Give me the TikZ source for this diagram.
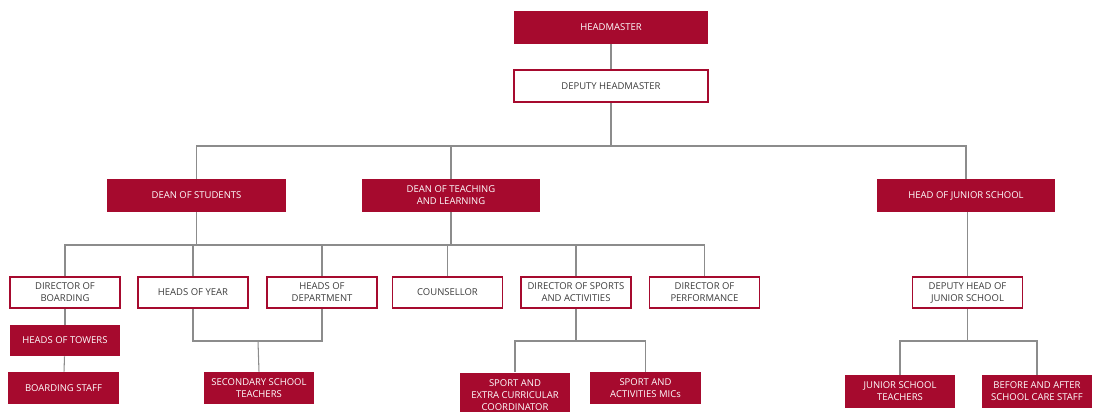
\documentclass[tikz,border=0pt]{standalone}
\usepackage{fontspec}
\setmainfont{Open Sans}
\usepackage{tikz}
\usetikzlibrary{positioning}
\usetikzlibrary{calc}

\definecolor{schoolred}{RGB}{166,10,46}
\definecolor{linegray}{RGB}{140,140,140}
\definecolor{textgray}{RGB}{60,60,60}

\begin{document}
\begin{tikzpicture}[x=0.02cm, y=-0.02cm,
    redbox/.style={fill=schoolred, text=white, inner sep=0pt, align=center,
        font=\fontsize{5.4}{6.8}\selectfont},
    whitebox/.style={draw=schoolred, line width=0.9pt, fill=white, text=textgray,
        inner sep=0pt, align=center, font=\fontsize{5.4}{6.8}\selectfont},
    link/.style={draw=linegray, line width=0.6pt}]

 \useasboundingbox (0,0) rectangle (1093,412);
 \clip (0,0) rectangle (1093,412);

 % top of the tree
 \node[redbox, minimum width=3.88cm, minimum height=0.66cm] (hm) at (611,27.5) {HEADMASTER};
 \node[whitebox, minimum width=3.88cm, minimum height=0.64cm] (dhm) at (611,86) {DEPUTY HEADMASTER};

 % deans
 \node[redbox, minimum width=3.58cm, minimum height=0.66cm] (dos) at (196.5,195.5) {DEAN OF STUDENTS};
 \node[redbox, minimum width=3.58cm, minimum height=0.66cm] (dtl) at (451,195.5) {DEAN OF TEACHING\\AND LEARNING};
 \node[redbox, minimum width=3.58cm, minimum height=0.66cm] (hjs) at (966,195.5) {HEAD OF JUNIOR SCHOOL};

 % third row
 \foreach \x/\nm/\txt in {65/dob/DIRECTOR OF\\BOARDING, 193/hoy/HEADS OF YEAR,
     322/hod/HEADS OF\\DEPARTMENT, 447.5/cou/COUNSELLOR,
     576/dsa/DIRECTOR OF SPORTS\\AND ACTIVITIES, 704.5/dop/DIRECTOR OF\\PERFORMANCE,
     967.5/dhj/DEPUTY HEAD OF\\JUNIOR SCHOOL}{
   \node[whitebox, minimum width=2.2cm, minimum height=0.62cm] (\nm) at (\x,292.5) {\txt};
 }

 % staff boxes
 \node[redbox, minimum width=2.2cm, minimum height=0.62cm] (hot) at (65,340.5) {HEADS OF TOWERS};
 \node[redbox, minimum width=2.22cm, minimum height=0.64cm] (bst) at (63.5,388) {BOARDING STAFF};
 \node[redbox, minimum width=2.2cm, minimum height=0.64cm] (sst) at (259,388) {SECONDARY SCHOOL\\TEACHERS};
 \node[redbox, minimum width=2.2cm, minimum height=0.9cm] (sec) at (515,395) {SPORT AND\\EXTRA CURRICULAR\\COORDINATOR};
 \node[redbox, minimum width=2.22cm, minimum height=0.64cm] (sam) at (645.5,388) {SPORT AND\\ACTIVITIES MICs};
 \node[redbox, minimum width=2.2cm, minimum height=0.66cm] (jst) at (900,391.5) {JUNIOR SCHOOL\\TEACHERS};
 \node[redbox, minimum width=2.2cm, minimum height=0.66cm] (baa) at (1037,391.5) {BEFORE AND AFTER\\SCHOOL CARE STAFF};

 % bus levels
 \coordinate (busA) at (611,146);
 \coordinate (busB) at (322,245);
 \coordinate (busC) at (258,341);
 \coordinate (busD) at (576,341);
 \coordinate (busE) at (967.5,341);

 \draw[link] (hm) -- (dhm);
 \draw[link] (dhm) -- (busA);
 \draw[link] (dos.north) |- (busA) -| (hjs.north);
 \draw[link] (dtl.north) -- (dtl.north |- busA);
 \draw[link] (dob.north) |- (busB) -| (dop.north);
 \draw[link] (dos) -- (dos |- busB);
 \draw[link] (dtl) -- (dtl |- busB);
 \foreach \nm in {hoy,hod,cou,dsa}{
   \draw[link] (\nm.north) -- (\nm.north |- busB);
 }
 \draw[link] (dhj.north) -- (dhj.north |- hjs.south);
 \draw[link] (dob) -- (hot);
 \draw[link] (hot) -- (bst);
 \draw[link] (hoy.south) |- (busC) -| (hod.south);
 \draw[link] (busC) -- (sst.north);
 \draw[link] (dsa) -- (busD);
 \draw[link] (sec.north) |- (busD) -| (sam.north);
 \draw[link] (dhj) -- (busE);
 \draw[link] (jst.north) |- (busE) -| (baa.north);

\end{tikzpicture}
\end{document}
